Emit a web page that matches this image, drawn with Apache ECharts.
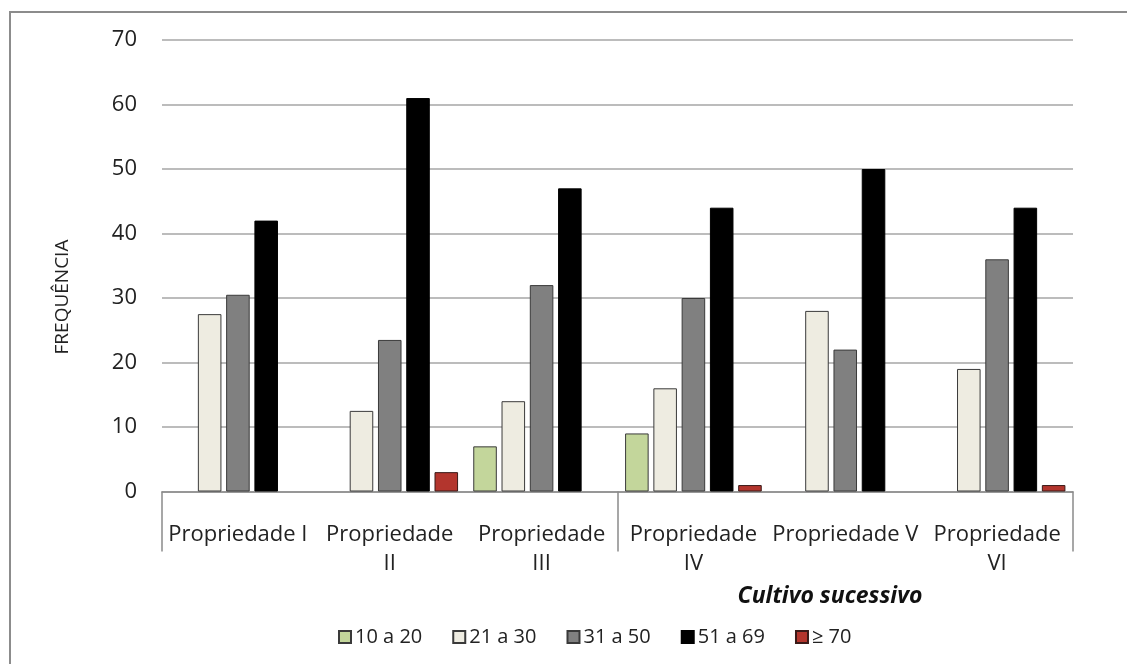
<!DOCTYPE html>
<html>
<head>
<meta charset="utf-8">
<script src="https://cdn.jsdelivr.net/npm/echarts@6/dist/echarts.min.js"></script>
<style>
  html, body { margin: 0; padding: 0; background: #ffffff; }
  #chart { width: 1127px; height: 664px; }
</style>
</head>
<body>
<div id="chart"></div>
<script>
// Categories (tick labels, with the line breaks they are drawn with)
const categories = ['Propriedade I', 'Propriedade\nII', 'Propriedade\nIII', 'Propriedade\nIV', 'Propriedade V', 'Propriedade\nVI'];

// Frequencies per age class; null = no bar
const s10a20 = [null, null, 7, 9, null, null];
const s21a30 = [27.5, 12.5, 14, 16, 28, 19];
const s31a50 = [30.5, 23.5, 32, 30, 22, 36];
const s51a69 = [42, 61, 47, 44, 50, 44];
const s70 = [null, 3, null, 1, null, 1];

const seriesNames = ['10 a 20', '21 a 30', '31 a 50', '51 a 69', '≥ 70'];
const yTicks = { min: 0, max: 70, interval: 10 };

const FONT = '"Open Sans", "Noto Sans", sans-serif';

const fills = ['#c3d69b', '#eeece1', '#808080', '#000000', '#b3352d'];
const borders = ['#3a3a3a', '#3a3a3a', '#3a3a3a', '#000000', '#3a1a18'];
const seriesData = [s10a20, s21a30, s31a50, s51a69, s70];

const chart = echarts.init(document.getElementById('chart'), null, { renderer: 'canvas' });

chart.setOption({
  backgroundColor: '#ffffff',
  animation: false,
  grid: { left: 162, right: 54, top: 40, bottom: 172.5, containLabel: false },
  legend: {
    data: seriesNames,
    left: 333,
    top: 622,
    itemWidth: 12,
    itemHeight: 12,
    itemGap: 30,
    icon: 'rect',
    textStyle: { fontFamily: FONT, fontSize: 20, color: '#222222', padding: [0, 0, 0, -1] }
  },
  xAxis: {
    type: 'category',
    data: categories,
    boundaryGap: true,
    axisLine: { show: true, lineStyle: { color: '#8a8a8a', width: 1.5 } },
    axisTick: {
      show: true,
      length: 60,
      interval: function (index) { return index % 3 === 0; },
      lineStyle: { color: '#8a8a8a', width: 1.5 }
    },
    axisLabel: {
      interval: 0,
      margin: 29,
      fontFamily: FONT,
      fontSize: 22,
      lineHeight: 29,
      color: '#222222'
    },
    splitLine: { show: false }
  },
  yAxis: {
    type: 'value',
    min: yTicks.min,
    max: yTicks.max,
    interval: yTicks.interval,
    axisLine: { show: false },
    axisTick: { show: false },
    axisLabel: { margin: 25, fontFamily: FONT, fontSize: 22, color: '#222222' },
    splitLine: { show: true, lineStyle: { color: '#a6a6a6', width: 1.5 } }
  },
  series: seriesNames.map(function (name, i) {
    return {
      name: name,
      type: 'bar',
      data: seriesData[i],
      barGap: '20%',
      barCategoryGap: '10%',
      itemStyle: { color: fills[i], borderColor: borders[i], borderWidth: 1 }
    };
  }),
  graphic: [
    {
      type: 'rect',
      silent: true,
      shape: { x: 10, y: 12, width: 1130, height: 670 },
      style: { fill: 'none', stroke: '#8c8c8c', lineWidth: 2 }
    },
    {
      // vertical axis title
      type: 'text',
      x: 63,
      y: 297,
      rotation: Math.PI / 2,
      style: {
        text: 'FREQUÊNCIA',
        fontFamily: FONT,
        fontSize: 19,
        fill: '#222222',
        align: 'center',
        verticalAlign: 'middle'
      }
    },
    {
      type: 'text',
      x: 830,
      y: 596,
      style: {
        text: 'Cultivo sucessivo',
        fontFamily: FONT,
        fontSize: 23,
        fontWeight: 'bold',
        fontStyle: 'italic',
        fill: '#111111',
        align: 'center',
        verticalAlign: 'middle'
      }
    }
  ]
});
</script>
</body>
</html>
